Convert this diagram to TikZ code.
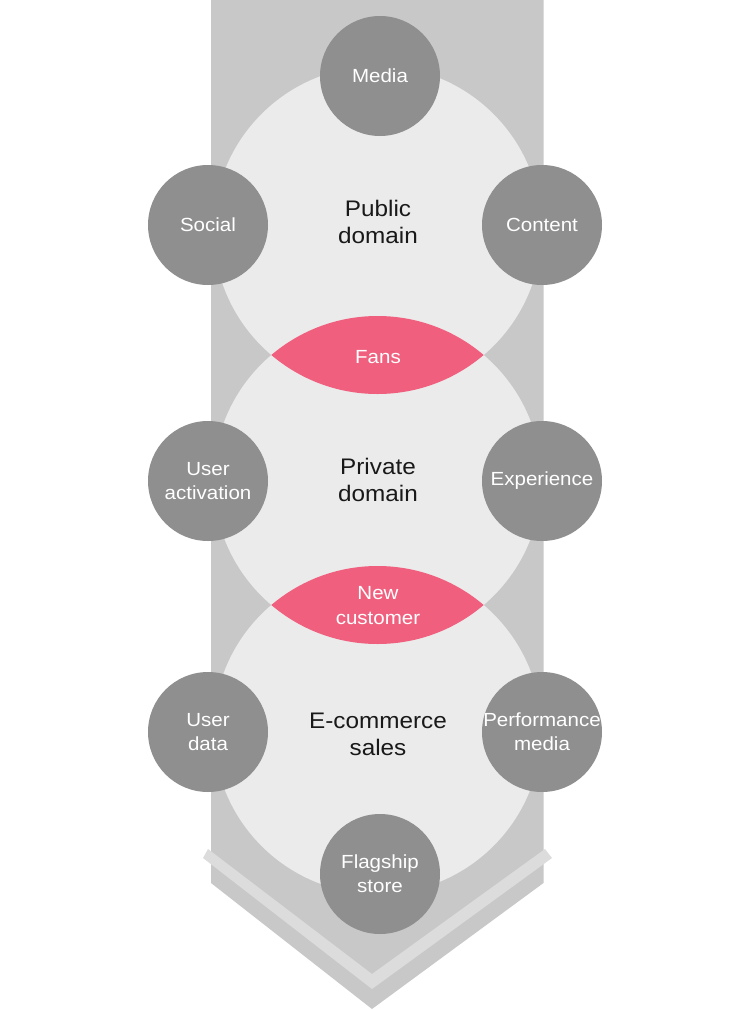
\documentclass[tikz,border=0pt]{standalone}
\usepackage{fontspec}
\setmainfont{Liberation Sans}[FakeStretch=1.08]
\definecolor{bandc}{HTML}{C8C8C8}
\definecolor{stripec}{HTML}{DCDCDC}
\definecolor{bigc}{HTML}{EBEBEB}
\definecolor{smallc}{HTML}{8F8F8F}
\definecolor{pinkc}{HTML}{F0607E}
\tikzset{
  bigcirc/.style={circle, fill=bigc, minimum size=328pt, inner sep=0pt},
  biglabel/.style={align=center, font=\fontsize{22.5}{27}\selectfont, text=black!90},
  smallcirc/.style={circle, fill=smallc, minimum size=120pt, inner sep=0pt},
  smalltext/.style={align=center, inner sep=0pt, font=\fontsize{19}{24}\selectfont, text=white},
  lenslabel/.style={align=center, font=\fontsize{19}{25}\selectfont, text=white},
}
\begin{document}
\begin{tikzpicture}[x=1pt,y=-1pt]
\useasboundingbox (0,0) rectangle (750,1010);
% band with chevron end
\fill[bandc] (211,0) -- (211,883) -- (372,1009) -- (543.5,883) -- (543.5,0) -- cycle;
% light stripe
\fill[stripec] (208,849) -- (372,974) -- (545,849) -- (552,858) -- (372,989) -- (203,858) -- cycle;
% big circles
\node[bigcirc] (pub) at (377.5,230) {};
\node[bigcirc] (pri) at (377.5,480) {};
\node[bigcirc] (ecom) at (377.5,730) {};
% lenses
\begin{scope}
  \clip (377.5,230) circle (164pt);
  \fill[pinkc] (377.5,480) circle (164pt);
\end{scope}
\begin{scope}
  \clip (377.5,480) circle (164pt);
  \fill[pinkc] (377.5,730) circle (164pt);
\end{scope}
% big labels
\node[biglabel] (publbl) at (378,222) {Public\\domain};
\node[biglabel] (prilbl) at (378,480) {Private\\domain};
\node[biglabel] (ecomlbl) at (378,734) {E-commerce\\sales};
\node[lenslabel] (fans) at (378,357) {Fans};
\node[lenslabel] (newc) at (378,606) {New\\customer};
% small circles
\node[smallcirc, label={[smalltext]center:Media}] (media) at (380,76) {};
\node[smallcirc, label={[smalltext]center:Social}] (social) at (208,225) {};
\node[smallcirc, label={[smalltext]center:Content}] (content) at (542,225) {};
\node[smallcirc, label={[smalltext]center:User\\activation}] (useract) at (208,481) {};
\node[smallcirc, label={[smalltext]center:Experience}] (exper) at (542,481) {};
\node[smallcirc, label={[smalltext]center:User\\data}] (userdata) at (208,732) {};
\node[smallcirc, label={[smalltext]center:Performance\\media}] (perf) at (542,732) {};
\node[smallcirc, label={[smalltext]center:Flagship\\store}] (flag) at (380,874) {};
\end{tikzpicture}
\end{document}
